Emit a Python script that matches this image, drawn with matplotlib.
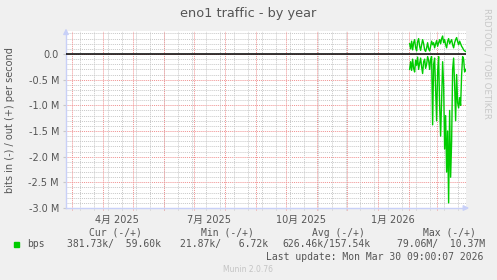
import datetime as dt
import matplotlib
matplotlib.use('Agg')
import matplotlib.pyplot as plt
import matplotlib.dates as mdates
from matplotlib.patches import Rectangle

# --- datos (M bits/s, promedio diario) ---
data_start = dt.datetime(2026, 2, 2)
out_vals = [0.20, 0.10, 0.25, 0.08, 0.22, 0.28, 0.12, 0.06, 0.24, 0.30,
            0.15, 0.07, 0.18, 0.28, 0.20, 0.08, 0.05, 0.12, 0.22, 0.10,
            0.06, 0.15, 0.25, 0.18, 0.22, 0.12, 0.20, 0.26, 0.15, 0.22,
            0.28, 0.20, 0.30, 0.35, 0.22, 0.28, 0.18, 0.12, 0.25, 0.30,
            0.20, 0.24, 0.28, 0.18, 0.12, 0.22, 0.28, 0.32, 0.24, 0.18,
            0.25, 0.20, 0.15, 0.12, 0.08, 0.06, 0.05]
in_vals = [-0.30, -0.15, -0.32, -0.10, -0.28, -0.35, -0.12, -0.22, -0.06, -0.30,
           -0.18, -0.08, -0.25, -0.38, -0.15, -0.10, -0.28, -0.20, -0.05, -0.12,
           -0.30, -0.10, -0.05, -1.38, -0.20, -0.08, -0.70, -1.30, -0.35, -0.05,
           -1.00, -1.60, -0.90, -0.15, -0.60, -1.85, -1.20, -2.30, -1.50, -2.90,
           -1.10, -2.40, -1.70, -0.30, -0.08, -0.60, -1.30, -0.40, -0.95, -1.05,
           -0.85, -1.00, -0.40, -0.05, -0.10, -0.35, -0.30]
dates = [data_start + dt.timedelta(days=i) for i in range(len(out_vals))]

y_ticks = [0.0, -0.5, -1.0, -1.5, -2.0, -2.5, -3.0]
x_labels = ['4月 2025', '7月 2025', '10月 2025', '1月 2026']
x_label_dates = [dt.datetime(2025, 4, 15, 12), dt.datetime(2025, 7, 16),
                 dt.datetime(2025, 10, 16), dt.datetime(2026, 1, 16)]

legend_heads = ['Cur (-/+)', 'Min (-/+)', 'Avg (-/+)', 'Max (-/+)']
legend_vals = ['381.73k/  59.60k', '21.87k/   6.72k', '626.46k/157.54k', '79.06M/  10.37M']

t_end = dt.datetime(2026, 3, 30, 9, 0, 7)
t_start = t_end - dt.timedelta(days=400)

W, H = 497, 280
TXT = '#555555'
plt.rcParams['font.family'] = ['DejaVu Sans', 'Noto Sans CJK JP']

fig = plt.figure(figsize=(W / 100, H / 100), dpi=100, facecolor='#f0f0f0')
ax = fig.add_axes([66 / W, (H - 208) / H, 400 / W, 177 / H])
ax.set_facecolor('white')

y_top = 23 / 154 * 3.0
ax.set_xlim(t_start, t_end)
ax.set_ylim(-3.0, y_top)

# rejilla menor horizontal cada 0.1 M, mayor cada 0.5 M
dot = (0, (1, 1))
GRIS = '#c8c8c8'
ROJO = '#f09090'
k = -30
while k / 10 <= y_top:
    v = k / 10
    if k % 5 == 0:
        ax.axhline(v, color=ROJO, lw=0.7, ls=dot, zorder=1)
    else:
        ax.axhline(v, color=GRIS, lw=0.7, ls=dot, zorder=1)
    k += 1

# rejilla vertical: cada 2 semanas (domingos) y meses
d = dt.datetime(2025, 7, 13)
while d > t_start:
    d -= dt.timedelta(days=14)
while d < t_end:
    if d > t_start:
        ax.axvline(d, color=GRIS, lw=0.7, ls=dot, zorder=1,
                   ymin=-2 / 177, clip_on=False)
    d += dt.timedelta(days=14)
m = dt.datetime(2025, 3, 1)
while m < t_end:
    ax.axvline(m, color=ROJO, lw=0.7, ls=dot, zorder=1,
               ymin=-2 / 177, clip_on=False)
    m = dt.datetime(m.year + (m.month // 12), m.month % 12 + 1, 1)

ax.axhline(0, color='black', lw=1.1, zorder=3)
ax.plot(dates, out_vals, color='#00cc00', lw=1.0, zorder=4)
ax.plot(dates, in_vals, color='#00cc00', lw=1.0, zorder=4)

for s in ['top', 'right']:
    ax.spines[s].set_visible(False)
for s in ['left', 'bottom']:
    ax.spines[s].set_color('#c8d0f8')
    ax.spines[s].set_linewidth(1)

# flechas de los ejes
ax.annotate('', xy=(0, 1.03), xytext=(0, 0.98), xycoords='axes fraction',
            arrowprops=dict(arrowstyle='-|>', color='#c8d0f8', lw=1,
                            mutation_scale=8), annotation_clip=False)
ax.annotate('', xy=(1.015, 0), xytext=(0.99, 0), xycoords='axes fraction',
            arrowprops=dict(arrowstyle='-|>', color='#c8d0f8', lw=1,
                            mutation_scale=8), annotation_clip=False)

ax.set_yticks(y_ticks)
ax.set_yticklabels(['0.0' if v == 0 else f'{v:.1f} M' for v in y_ticks])
ax.set_xticks([mdates.date2num(x) for x in x_label_dates])
ax.set_xticklabels(x_labels)
ax.tick_params(axis='y', length=2, color=GRIS, labelsize=7,
               labelcolor=TXT, pad=3)
ax.tick_params(axis='x', length=0, labelsize=7, labelcolor=TXT, pad=5)

def fx(x):
    return x / W

def fy(y):
    return 1 - y / H

fig.text(fx(248), fy(13), 'eno1 traffic - by year', ha='center', va='center',
         fontsize=9.3, color=TXT)
fig.text(fx(10), fy(120), 'bits in (-) / out (+) per second', rotation=90,
         ha='center', va='center', fontsize=7, color=TXT)
fig.text(fx(487), fy(8), 'RRDTOOL / TOBI OETIKER', rotation=270,
         ha='center', va='top', fontsize=6.2, color='#c8c8c8')

mono = 'DejaVu Sans Mono'
for x, t in zip([89.3, 201, 312.3, 422.7], legend_heads):
    fig.text(fx(x), fy(232.7), t, ha='left', va='center', fontsize=7,
             family=mono, color=TXT)
fig.text(fx(26.7), fy(244.3), 'bps', ha='left', va='center', fontsize=7,
         family=mono, color=TXT)
for x, t in zip([66.7, 180, 282.7, 397.3], legend_vals):
    fig.text(fx(x), fy(244.3), t, ha='left', va='center', fontsize=7,
             family=mono, color=TXT)
fig.patches.append(Rectangle((fx(14), fy(247)), 5 / W, 5 / H,
                             transform=fig.transFigure, color='#00cc00'))
fig.text(fx(483), fy(256.7), 'Last update: Mon Mar 30 09:00:07 2026',
         ha='right', va='center', fontsize=7, family=mono, color=TXT)
fig.text(fx(248), fy(269), 'Munin 2.0.76', ha='center', va='center',
         fontsize=5.5, color='#c4c4c4')

fig.savefig('out.png', dpi=100, facecolor=fig.get_facecolor())
